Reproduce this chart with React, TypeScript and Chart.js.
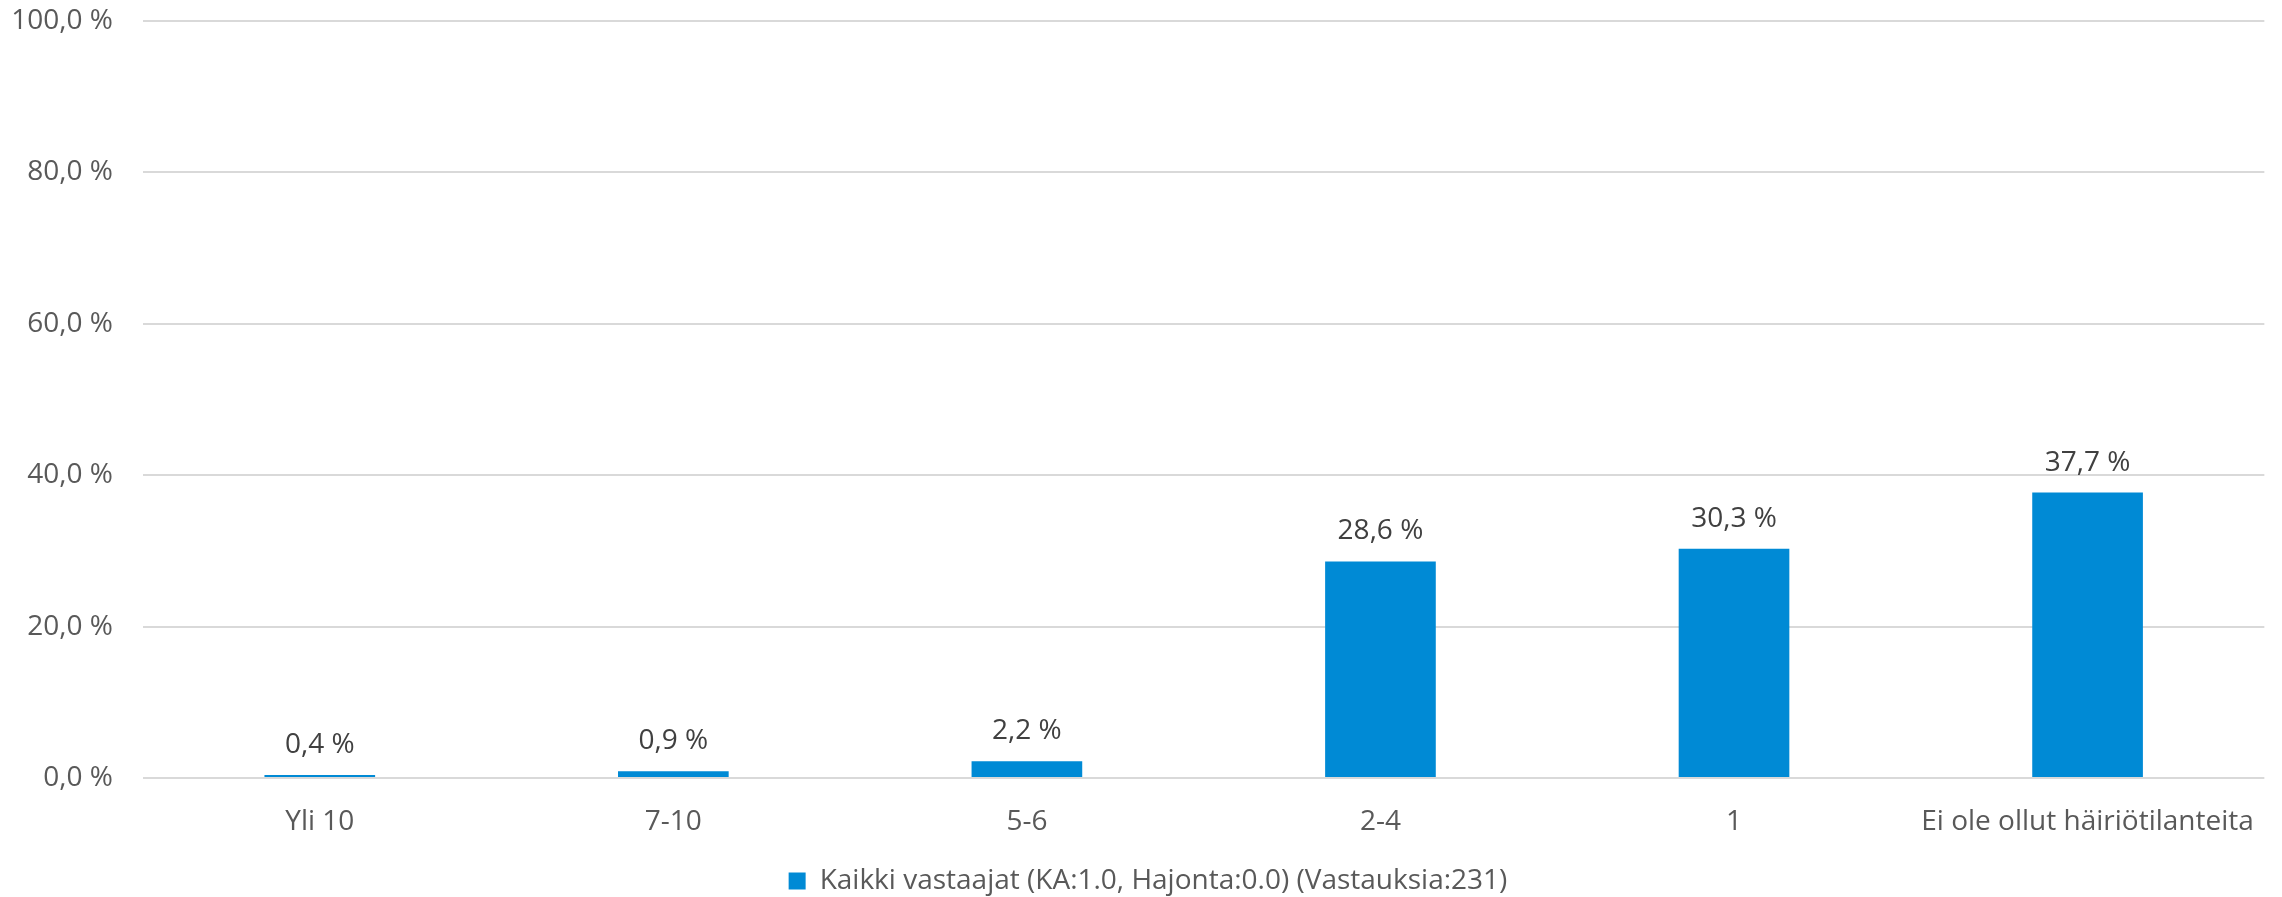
import React, { useEffect, useRef } from "react";
import { Chart, registerables } from "chart.js";

Chart.register(...registerables);

const categories = ["Yli 10", "7-10", "5-6", "2-4", "1", "Ei ole ollut häiriötilanteita"];
const values = [0.4, 0.9, 2.2, 28.6, 30.3, 37.7];
const seriesLabel = "Kaikki vastaajat (KA:1.0, Hajonta:0.0) (Vastauksia:231)";
const yTicks = [0, 20, 40, 60, 80, 100];

const FONT = "'Open Sans', sans-serif";
const fmt = (v: number) => v.toFixed(1).replace(".", ",") + " %";

const valueLabels = {
  id: "valueLabels",
  afterLayout(chart: any) {
    if (chart.legend) {
      chart.legend.left += 14;
      chart.legend.right += 14;
    }
  },
  afterDatasetsDraw(chart: any) {
    const ctx = chart.ctx;
    const meta = chart.getDatasetMeta(0);
    ctx.save();
    ctx.font = `28px ${FONT}`;
    ctx.fillStyle = "#404040";
    ctx.textAlign = "center";
    ctx.textBaseline = "middle";
    meta.data.forEach((el: any, i: number) => {
      ctx.fillText(fmt(values[i]), el.x, el.y - 30);
    });
    ctx.restore();
  },
};

export default function App() {
  const ref = useRef<HTMLCanvasElement>(null);
  useEffect(() => {
    document.body.style.margin = "0";
    const chart = new Chart(ref.current!, {
      type: "bar",
      data: {
        labels: categories,
        datasets: [
          {
            label: seriesLabel,
            data: values,
            backgroundColor: "#008ad5",
            borderWidth: 0,
            barPercentage: 0.313,
            categoryPercentage: 1,
          },
        ],
      },
      options: {
        animation: false,
        responsive: false,
        layout: { padding: { left: 0, right: 14, top: 21, bottom: -8 } },
        plugins: {
          tooltip: { enabled: false },
          legend: {
            position: "bottom",
            labels: {
              font: { family: FONT, size: 28 },
              color: "#595959",
              boxWidth: 17,
              boxHeight: 17,
              padding: 12,
            },
          },
        },
        scales: {
          x: {
            grid: { display: false, drawTicks: false },
            border: { display: false },
            afterFit: (s: any) => {
              s.height = 77;
            },
            ticks: {
              font: { family: FONT, size: 28 },
              color: "#595959",
              padding: 27,
              maxRotation: 0,
              autoSkip: false,
            },
          },
          y: {
            min: 0,
            max: 100,
            afterFit: (s: any) => {
              s.width = 143;
              s.paddingTop = 0;
              s.paddingBottom = 0;
            },
            afterBuildTicks: (s: any) => {
              s.ticks = yTicks.map((v) => ({ value: v }));
            },
            grid: { color: "#d9d9d9", lineWidth: 2, drawTicks: false },
            border: { display: false },
            ticks: {
              font: { family: FONT, size: 28 },
              color: "#595959",
              padding: 30,
              callback: (v: any) => fmt(Number(v)),
            },
          },
        },
      },
      plugins: [valueLabels],
    });
    return () => chart.destroy();
  }, []);
  return (
    <div style={{ position: "absolute", left: 0, top: 0, width: 2282, height: 897 }}>
      <canvas ref={ref} width={2282} height={897} />
    </div>
  );
}
